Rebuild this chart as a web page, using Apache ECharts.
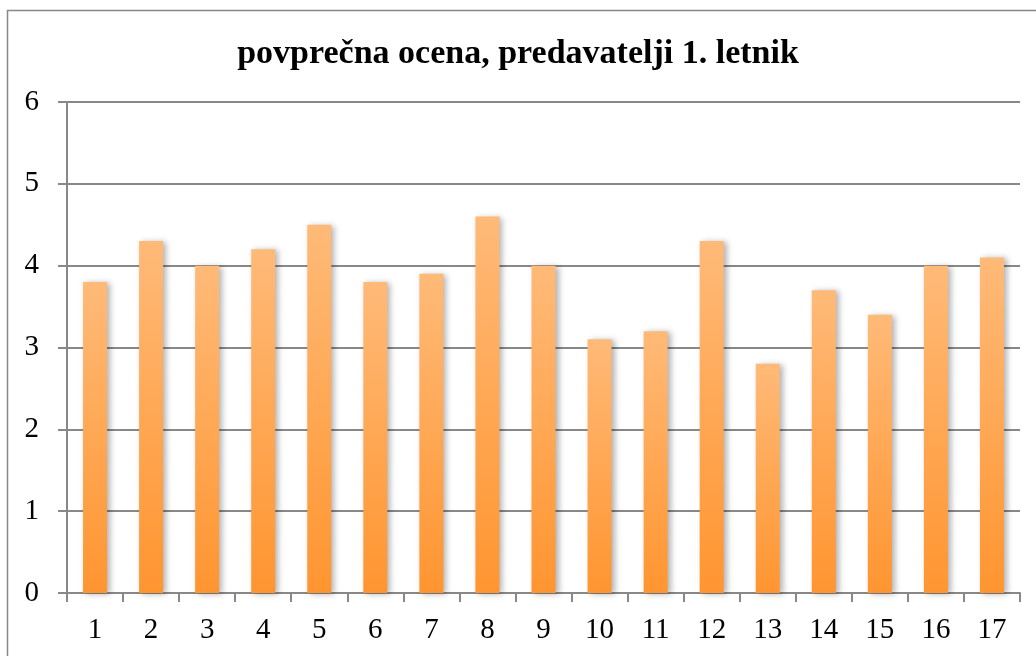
<!DOCTYPE html>
<html>
<head>
<meta charset="utf-8">
<script src="https://cdn.jsdelivr.net/npm/echarts@6/dist/echarts.min.js"></script>
<style>
html,body{margin:0;padding:0;background:#fff;}
#chart{width:1036px;height:656px;}
</style>
</head>
<body>
<div id="chart"></div>
<script>
const titleText = 'povprečna ocena, predavatelji 1. letnik';
const categories = ['1','2','3','4','5','6','7','8','9','10','11','12','13','14','15','16','17'];
const values = [3.8, 4.3, 4.0, 4.2, 4.5, 3.8, 3.9, 4.6, 4.0, 3.1, 3.2, 4.3, 2.8, 3.7, 3.4, 4.0, 4.1];

const chart = echarts.init(document.getElementById('chart'), null, {renderer: 'canvas'});
const font = '"Liberation Serif", "DejaVu Serif", serif';
chart.setOption({
  animation: false,
  backgroundColor: '#fff',
  graphic: [{
    type: 'rect',
    shape: {x: 7.5, y: 10.5, width: 1100, height: 700},
    style: {fill: 'none', stroke: '#888', lineWidth: 1.5},
    silent: true
  }],
  title: {
    text: titleText,
    left: 'center',
    top: 32,
    textStyle: {fontFamily: font, fontWeight: 'bold', fontSize: 34, color: '#000'}
  },
  grid: {left: 67, right: 16, top: 102, bottom: 63, containLabel: false},
  xAxis: {
    type: 'category',
    data: categories,
    axisLine: {lineStyle: {color: '#888', width: 2}},
    axisTick: {show: true, length: 9, lineStyle: {color: '#888', width: 2}},
    axisLabel: {fontFamily: font, fontSize: 29, color: '#000', margin: 23}
  },
  yAxis: {
    type: 'value',
    min: 0, max: 6, interval: 1,
    axisLine: {show: true, lineStyle: {color: '#888', width: 2}},
    axisTick: {show: true, length: 9, lineStyle: {color: '#888', width: 2}},
    axisLabel: {fontFamily: font, fontSize: 29, color: '#000', margin: 28},
    splitLine: {lineStyle: {color: '#888', width: 2}}
  },
  series: [{
    type: 'bar',
    data: values,
    barWidth: 24,
    itemStyle: {
      color: new echarts.graphic.LinearGradient(0, 0, 0, 1, [
        {offset: 0, color: '#FFBA78'},
        {offset: 1, color: '#FF9530'}
      ], false),
      shadowBlur: 6,
      shadowColor: 'rgba(0,0,0,0.3)',
      shadowOffsetX: 3,
      shadowOffsetY: 1
    }
  }]
});
</script>
</body>
</html>
